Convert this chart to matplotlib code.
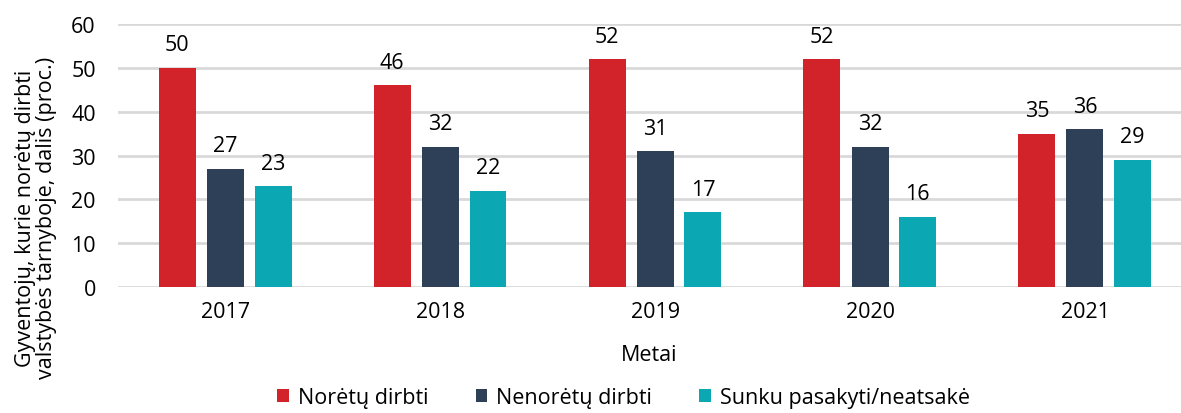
import matplotlib
matplotlib.use("Agg")
import matplotlib.pyplot as plt
import numpy as np

years = ["2017", "2018", "2019", "2020", "2021"]
series_names = ["Norėtų dirbti", "Nenorėtų dirbti", "Sunku pasakyti/neatsakė"]
norėtų = [50, 46, 52, 52, 35]
nenorėtų = [27, 32, 31, 32, 36]
sunku = [23, 22, 17, 16, 29]
colors = ["#D2232A", "#2E4057", "#0BA7B3"]

plt.rcParams['font.family'] = ['Open Sans', 'DejaVu Sans']
FS = 15.5

fig = plt.figure(figsize=(11.81, 4.14), dpi=100)
ax = fig.add_axes([0.0999, 0.3043, 0.9001, 0.6353])

x = np.arange(len(years))
width = 0.172
offsets = [-0.224, 0.0, 0.222]
for vals, off, col, name in zip([norėtų, nenorėtų, sunku], offsets, colors, series_names):
    bars = ax.bar(x + off, vals, width, color=col, label=name, zorder=3)
    for b, v in zip(bars, vals):
        ax.annotate(str(v), (b.get_x() + b.get_width() / 2, v), xytext=(0, 9),
                    textcoords="offset points", ha="center", va="bottom", fontsize=FS)

ax.set_xlim(-0.5, 4.447)
ax.set_ylim(0, 60)
ax.set_yticks(range(0, 61, 10))
ax.set_xticks(x)
ax.set_xticklabels(years)
ax.tick_params(axis='both', length=0, labelsize=FS)
ax.tick_params(axis='y', pad=16)
ax.tick_params(axis='x', pad=10)
ax.yaxis.grid(True, color="#D9D9D9", linewidth=2, zorder=0)
for s in ax.spines.values():
    s.set_visible(False)

ax.set_xlabel("Metai", fontsize=FS, labelpad=16)
ax.set_ylabel("Gyventojų, kurie norėtų dirbti\nvalstybės tarnyboje, dalis (proc.)", fontsize=FS,
              linespacing=1.05)
ax.yaxis.set_label_coords(-0.057, 0.265)

fig.legend(loc="lower center", bbox_to_anchor=(0.528, -0.035), ncol=3, frameon=False,
           fontsize=FS, handlelength=0.55, handleheight=0.55, columnspacing=2.2, handletextpad=0.4)

fig.savefig("out.png", dpi=100)
